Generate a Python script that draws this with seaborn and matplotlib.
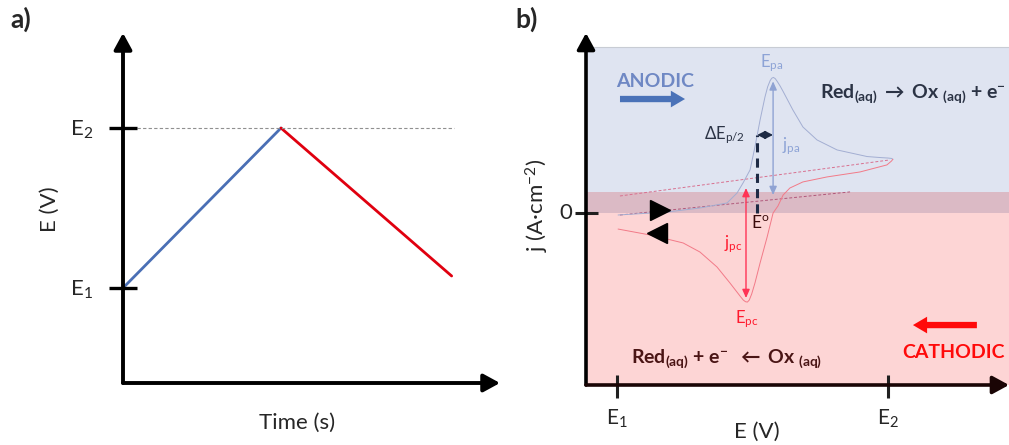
import matplotlib
matplotlib.use("Agg")
import matplotlib.pyplot as plt
import numpy as np
import pandas as pd
import seaborn as sns

sns.set_theme(style="white")
plt.rcParams["font.family"] = ["Lato", "DejaVu Sans"]
plt.rcParams["mathtext.fontset"] = "custom"
plt.rcParams["mathtext.rm"] = "Lato"
plt.rcParams["mathtext.it"] = "Lato:italic"
plt.rcParams["mathtext.bf"] = "Lato:bold"
plt.rcParams["mathtext.default"] = "rm"

# ---------------- data ----------------
# (a) triangular potential waveform: E1 -> E2 -> back towards E1
sweep_time = [0.0, 1.0, 2.08]
sweep_potential = [0.0, 1.0, 0.075]   # in units where E1 = 0, E2 = 1

# (b) schematic cyclic voltammogram (E scaled so that E1 = 0, E2 = 1)
fwd_E = [0.004, 0.185, 0.306, 0.406, 0.443, 0.465, 0.491, 0.509, 0.528, 0.546,
         0.556, 0.565, 0.571, 0.577, 0.584, 0.592, 0.602, 0.613, 0.649, 0.686,
         0.738, 0.812, 0.923, 0.975, 1.000, 1.013, 1.018]
fwd_j = [-0.015, 0.007, 0.037, 0.074, 0.148, 0.222, 0.319, 0.489, 0.689, 0.859,
         0.935, 0.980, 0.998, 1.004, 0.995, 0.972, 0.940, 0.900, 0.763, 0.637,
         0.541, 0.467, 0.418, 0.410, 0.407, 0.404, 0.398]
rev_E = [1.018, 1.013, 0.996, 0.897, 0.775, 0.686, 0.638, 0.613, 0.594, 0.576,
         0.554, 0.528, 0.509, 0.497, 0.488, 0.481, 0.474, 0.466, 0.454, 0.417,
         0.369, 0.306, 0.244, 0.185, 0.122, 0.004]
rev_j = [0.398, 0.385, 0.356, 0.304, 0.267, 0.230, 0.185, 0.133, 0.052, 0.000,
         -0.178, -0.370, -0.519, -0.600, -0.645, -0.660, -0.657, -0.645, -0.615,
         -0.519, -0.400, -0.289, -0.222, -0.193, -0.163, -0.119]

# extrapolated baselines for the anodic and cathodic peaks
base_upper_E = [0.011, 1.007]
base_upper_j = [0.126, 0.393]
base_lower_E = [0.011, 0.860]
base_lower_j = [-0.015, 0.156]

E_pa, j_pa_top, j_pa_base = 0.576, 0.975, 0.133
E_pc, j_pc_base, j_pc_bottom = 0.476, 0.185, -0.630
E_half, j_half = 0.517, 0.578

# ---------------- figure ----------------
W, H = 1009, 445
fig = plt.figure(figsize=(W / 100, H / 100), dpi=100)
fig.patch.set_facecolor("white")


def place(x0, y_top, x1, y_bot):
    return [x0 / W, 1 - y_bot / H, (x1 - x0) / W, (y_bot - y_top) / H]


def axis_arrows(ax, xcolor="black", ycolor="black", lw=2.6):
    style = "-|>,head_length=0.55,head_width=0.3"
    ax.annotate("", xy=(0, 1), xytext=(0, 0), xycoords="axes fraction",
                arrowprops=dict(arrowstyle=style, lw=lw, color=ycolor,
                                shrinkA=0, shrinkB=0, mutation_scale=18),
                annotation_clip=False)
    ax.annotate("", xy=(1, 0), xytext=(0, 0), xycoords="axes fraction",
                arrowprops=dict(arrowstyle=style, lw=lw, color=xcolor,
                                shrinkA=0, shrinkB=0, mutation_scale=18),
                annotation_clip=False)


# ===== panel a =====
axa = fig.add_axes(place(123, 33, 500, 383))
axa.set_xlim(0, 2.386)
axa.set_ylim(-0.594, 1.594)
axa.axis("off")

wave = pd.DataFrame({"t": sweep_time, "E": sweep_potential})
sns.lineplot(x=wave["t"][:2], y=wave["E"][:2], ax=axa, color="#4a6fb5",
             lw=2.0, sort=False, estimator=None)
sns.lineplot(x=wave["t"][1:], y=wave["E"][1:], ax=axa, color="#e0000f",
             lw=2.0, sort=False, estimator=None)
axa.plot([0.089, 2.095], [1.0, 1.0], ls=(0, (3, 2)), color="#909090", lw=0.8)
for lvl in (0.0, 1.0):
    axa.plot([-0.089, 0.089], [lvl, lvl], color="black", lw=2.4,
             clip_on=False, solid_capstyle="butt")
axis_arrows(axa, lw=2.8)
axa.text(-0.26, -0.05, "E$_1$", ha="center", va="baseline", fontsize=16)
axa.text(-0.26, 0.95, "E$_2$", ha="center", va="baseline", fontsize=16)
axa.text(-0.462, 0.49, "E (V)", ha="center", va="center", rotation=90,
         fontsize=16)
axa.text(1.101, -0.844, "Time (s)", ha="center", va="center", fontsize=16)
fig.text(10 / W, 1 - 19 / H, "a)", ha="left", va="center", fontsize=19,
         fontweight="bold")

# ===== panel b =====
axb = fig.add_axes(place(586, 33, 1009, 385))
axb.set_xlim(-0.1144, 1.4465)
axb.set_ylim(-1.274, 1.333)
axb.axis("off")

# anodic / cathodic regions
axb.axhspan(0.156, 1.23, color="#dfe4f1", lw=0, zorder=0)
axb.axhspan(0.0, 0.156, color="#dbbac5", lw=0, zorder=0)
axb.axhspan(-1.274, 0.0, color="#fdd5d5", lw=0, zorder=0)
axb.axhline(1.23, color="#c8ccd4", lw=0.8, zorder=0.5)

# baselines
axb.plot(base_upper_E, base_upper_j, ls=(0, (3, 2)), color="#d8708f", lw=0.7)
axb.plot(base_lower_E, base_lower_j, ls=(0, (3, 2)), color="#b0587a", lw=0.7)

# voltammogram
sns.lineplot(x=fwd_E, y=fwd_j, ax=axb, color="#a3aed2", lw=0.7, sort=False,
             estimator=None)
sns.lineplot(x=rev_E, y=rev_j, ax=axb, color="#f27a88", lw=0.7, sort=False,
             estimator=None)

# scan-direction markers
axb.plot([0.159], [0.022], marker=">", ms=14, color="black", ls="none")
axb.plot([0.148], [-0.148], marker="<", ms=14, color="black", ls="none")

# peak currents
axb.annotate("", xy=(E_pa, j_pa_top), xytext=(E_pa, j_pa_base),
             arrowprops=dict(arrowstyle="<|-|>,head_length=0.5,head_width=0.22",
                             color="#90a3d3", lw=1.0, shrinkA=0, shrinkB=0,
                             mutation_scale=10))
axb.annotate("", xy=(E_pc, j_pc_base), xytext=(E_pc, j_pc_bottom),
             arrowprops=dict(arrowstyle="<|-|>,head_length=0.5,head_width=0.22",
                             color="#ff3355", lw=1.0, shrinkA=0, shrinkB=0,
                             mutation_scale=10))
# half-peak width and formal potential
axb.plot([E_half, E_half], [0.0, j_half], ls=(0, (3, 2)), color="#1e2b45",
         lw=2.2)
axb.annotate("", xy=(E_half, j_half), xytext=(E_pa, j_half),
             arrowprops=dict(arrowstyle="<|-|>,head_length=0.5,head_width=0.25",
                             color="#1e2b45", lw=1.3, shrinkA=0, shrinkB=0,
                             mutation_scale=9))

axb.text(0.572, 1.081, "E$_{\\mathrm{pa}}$", color="#8da3d6", ha="center",
         va="baseline", fontsize=12)
axb.text(0.480, -0.815, "E$_{\\mathrm{pc}}$", color="#ff1a2e", ha="center",
         va="baseline", fontsize=12)
axb.text(0.642, 0.467, "j$_{\\mathrm{pa}}$", color="#8da3d6", ha="center",
         va="baseline", fontsize=12)
axb.text(0.428, -0.259, "j$_{\\mathrm{pc}}$", color="#ff1a2e", ha="center",
         va="baseline", fontsize=12)
axb.text(0.472, 0.548, "$\\Delta$E$_{\\mathrm{p/2}}$", color="#2b3345",
         ha="right", va="baseline", fontsize=12)
axb.text(0.528, -0.111, "E$^{\\mathrm{o}}$", color="#3a0a0a", ha="center",
         va="baseline", fontsize=12.5)

# direction labels and half reactions
axb.text(0.140, 0.933, "ANODIC", color="#6f88c4", ha="center", va="baseline",
         fontsize=14, fontweight="bold")
fat = "simple,head_length=0.85,head_width=1.0,tail_width=0.38"
axb.annotate("", xy=(0.251, 0.844), xytext=(0.011, 0.844),
             arrowprops=dict(arrowstyle=fat, color="#4a72b8", lw=0,
                             shrinkA=0, shrinkB=0, mutation_scale=12))
axb.text(1.240, -1.074, "CATHODIC", color="#ff0a0a", ha="center",
         va="baseline", fontsize=14, fontweight="bold")
axb.annotate("", xy=(1.092, -0.830), xytext=(1.328, -0.830),
             arrowprops=dict(arrowstyle=fat, color="#ff0a0a", lw=0,
                             shrinkA=0, shrinkB=0, mutation_scale=12))
axb.text(0.749, 0.852,
         "Red$_{\\mathbf{(aq)}}$ $\\mathbf{\\rightarrow}$ Ox $_{\\mathbf{(aq)}}$ + e$^{\\mathbf{-}}$",
         color="#2b3345", ha="left", va="baseline", fontsize=14,
         fontweight="bold")
axb.text(0.052, -1.111,
         "Red$_{\\mathbf{(aq)}}$ + e$^{\\mathbf{-}}$  $\\mathbf{\\leftarrow}$ Ox $_{\\mathbf{(aq)}}$",
         color="#4a1515", ha="left", va="baseline", fontsize=14,
         fontweight="bold")

# ticks and axis labels
axb.plot([-0.155, -0.070], [0, 0], color="#202020", lw=2.2, clip_on=False,
         solid_capstyle="butt")
for e in (0.0, 1.0):
    axb.plot([e, e], [-1.20, -1.37], color="#202020", lw=2.2, clip_on=False,
             solid_capstyle="butt")
axis_arrows(axb, xcolor="#1a0505", lw=2.6)
axb.text(-0.188, 0.0, "0", ha="center", va="center", fontsize=16)
axb.text(0.0, -1.570, "E$_1$", ha="center", va="baseline", fontsize=15)
axb.text(1.0, -1.570, "E$_2$", ha="center", va="baseline", fontsize=15)
axb.text(0.517, -1.667, "E (V)", ha="center", va="baseline", fontsize=16)
axb.text(-0.295, 0.055, "j (A·cm$^{-2}$)", ha="center", va="center",
         rotation=90, fontsize=16)
fig.text(515 / W, 1 - 19 / H, "b)", ha="left", va="center", fontsize=19,
         fontweight="bold")

fig.savefig("out.png", dpi=100)
